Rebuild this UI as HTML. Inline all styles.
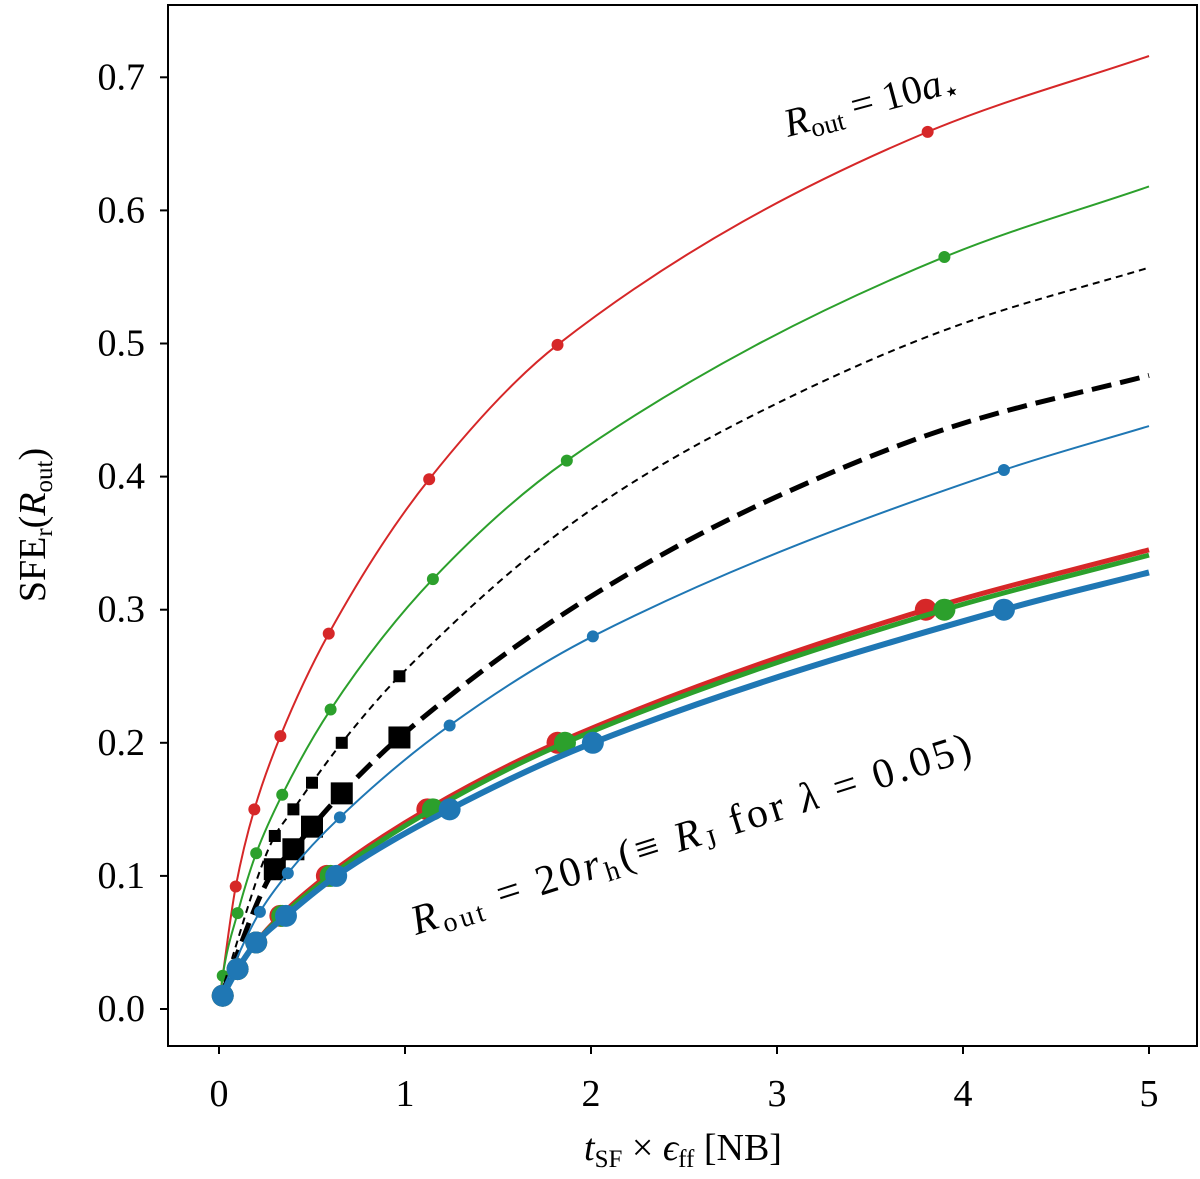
<!DOCTYPE html>
<html><head><meta charset="utf-8"><style>
html,body{margin:0;padding:0;background:#fff;}
svg{display:block;font-family:"Liberation Serif","DejaVu Serif",serif;}
</style></head><body>
<svg id="chart" width="1200" height="1179" viewBox="0 0 1200 1179"></svg>
<script>
const xTicks=[0,1,2,3,4,5];
const yTicks=[0.0,0.1,0.2,0.3,0.4,0.5,0.6,0.7];
const redThinX=[0.01,0.09,0.19,0.33,0.59,1.13,1.82,3.81,5];
const redThinY=[0.015,0.092,0.15,0.205,0.282,0.398,0.499,0.659,0.716];
const redThinM=[1,2,3,4,5,6,7];
const greenThinX=[0.01,0.02,0.1,0.2,0.34,0.6,1.15,1.87,3.9,5];
const greenThinY=[0.012,0.025,0.072,0.117,0.161,0.225,0.323,0.412,0.565,0.618];
const greenThinM=[1,2,3,4,5,6,7,8];
const blackThinX=[0.01,0.3,0.4,0.5,0.66,0.97,2,3,4,5];
const blackThinY=[0.012,0.13,0.15,0.17,0.2,0.25,0.375,0.455,0.515,0.557];
const blackThinM=[1,2,3,4,5];
const blackThickX=[0.01,0.3,0.4,0.5,0.66,0.97,2,3,4,5];
const blackThickY=[0.01,0.105,0.12,0.137,0.162,0.204,0.31,0.385,0.44,0.476];
const blackThickM=[1,2,3,4,5];
const blueThinX=[0.01,0.22,0.37,0.65,1.24,2.01,4.22,5];
const blueThinY=[0.012,0.073,0.102,0.144,0.213,0.28,0.405,0.438];
const blueThinM=[1,2,3,4,5,6];
const redThickX=[0.02,0.1,0.2,0.33,0.58,1.12,1.82,3.8,5];
const redThickY=[0.01,0.03,0.05,0.07,0.1,0.15,0.2,0.3,0.345];
const redThickM=[0,1,2,3,4,5,6,7];
const greenThickX=[0.02,0.1,0.2,0.34,0.6,1.15,1.86,3.9,5];
const greenThickY=[0.01,0.03,0.05,0.07,0.1,0.15,0.2,0.3,0.341];
const greenThickM=[0,1,2,3,4,5,6,7];
const blueThickX=[0.02,0.1,0.2,0.36,0.63,1.24,2.01,4.22,5];
const blueThickY=[0.01,0.03,0.05,0.07,0.1,0.15,0.2,0.3,0.328];
const blueThickM=[0,1,2,3,4,5,6,7];

const NS="http://www.w3.org/2000/svg";
const svg=document.getElementById('chart');
const X0=168,X1=1197,Y0=5,Y1=1046;
function sx(v){return 219+v*186;}
function sy(v){return 1009-v*1331;}
function mk(tag,attrs,parent){const e=document.createElementNS(NS,tag);for(const k in attrs)e.setAttribute(k,attrs[k]);(parent||svg).appendChild(e);return e;}
function path(xs,ys){
  const n=xs.length,d=[],m=new Array(n);
  for(let i=0;i<n-1;i++)d.push((ys[i+1]-ys[i])/(xs[i+1]-xs[i]));
  m[0]=d[0];m[n-1]=d[n-2];
  for(let i=1;i<n-1;i++){
    if(d[i-1]*d[i]<=0)m[i]=0;
    else{const h0=xs[i]-xs[i-1],h1=xs[i+1]-xs[i];const w1=2*h1+h0,w2=h1+2*h0;m[i]=(w1+w2)/(w1/d[i-1]+w2/d[i]);}
  }
  let s='M'+sx(xs[0])+','+sy(ys[0]);
  for(let i=0;i<n-1;i++){
    const h=xs[i+1]-xs[i];
    s+=' C'+sx(xs[i]+h/3)+','+sy(ys[i]+m[i]*h/3)+' '+sx(xs[i+1]-h/3)+','+sy(ys[i+1]-m[i+1]*h/3)+' '+sx(xs[i+1])+','+sy(ys[i+1]);
  }
  return s;
}
const series=[
 {n:'red-thin',x:redThinX,y:redThinY,m:redThinM,c:'#d62728',w:2,r:6,sq:false,dash:''},
 {n:'green-thin',x:greenThinX,y:greenThinY,m:greenThinM,c:'#2ca02c',w:2,r:6,sq:false,dash:''},
 {n:'black-thin-dashed',x:blackThinX,y:blackThinY,m:blackThinM,c:'#000',w:2,r:6,sq:true,dash:'7,5'},
 {n:'black-thick-dashed',x:blackThickX,y:blackThickY,m:blackThickM,c:'#000',w:5,r:11,sq:true,dash:'20,9'},
 {n:'blue-thin',x:blueThinX,y:blueThinY,m:blueThinM,c:'#1f77b4',w:2,r:6,sq:false,dash:''},
 {n:'red-thick',x:redThickX,y:redThickY,m:redThickM,c:'#d62728',w:5,r:11,sq:false,dash:''},
 {n:'green-thick',x:greenThickX,y:greenThickY,m:greenThickM,c:'#2ca02c',w:5,r:11,sq:false,dash:''},
 {n:'blue-thick',x:blueThickX,y:blueThickY,m:blueThickM,c:'#1f77b4',w:6,r:11,sq:false,dash:''}
];
series.forEach(s=>{
  const g=mk('g',{});
  
  
  const l=mk('path',{d:path(s.x,s.y),fill:'none',stroke:s.c,'stroke-width':s.w,'stroke-dasharray':s.dash},g);
  
  
  s.m.forEach(i=>{
    let e;
    if(s.sq) e=mk('rect',{x:sx(s.x[i])-s.r,y:sy(s.y[i])-s.r,width:2*s.r,height:2*s.r,fill:s.c},g);
    else e=mk('circle',{cx:sx(s.x[i]),cy:sy(s.y[i]),r:s.r,fill:s.c},g);
    
    
  });
});
const fr=mk('rect',{x:X0,y:Y0,width:X1-X0,height:Y1-Y0,fill:'none',stroke:'#000','stroke-width':2});


xTicks.forEach(t=>{
  const l=mk('line',{x1:sx(t),x2:sx(t),y1:Y1,y2:Y1+8,stroke:'#000','stroke-width':2});
  
  
  const tx=mk('text',{x:sx(t),y:1106,'font-size':38,'text-anchor':'middle'});
  tx.textContent=t;
  
  
});
yTicks.forEach(t=>{
  const l=mk('line',{x1:X0-8,x2:X0,y1:sy(t),y2:sy(t),stroke:'#000','stroke-width':2});
  
  
  const tx=mk('text',{x:145,y:sy(t)+12,'font-size':38,'text-anchor':'end'});
  tx.textContent=t.toFixed(1);
  
  
});
</script>
<div style="position:absolute;left:0;top:0;width:1200px;height:1179px;pointer-events:none;">
<svg width="1200" height="1179" style="font-family:'Liberation Serif','DejaVu Serif',serif;">
<text x="683" y="1160" font-size="38" text-anchor="middle"><tspan font-style="italic">t</tspan><tspan font-size="25" dy="7">SF</tspan><tspan dy="-7"> × </tspan><tspan font-style="italic">ϵ</tspan><tspan font-size="25" dy="7">ff</tspan><tspan dy="-7"> [NB]</tspan></text>
<text transform="translate(45,525) rotate(-90)" font-size="38" text-anchor="middle">SFE<tspan font-size="25" dy="7">r</tspan><tspan dy="-7">(</tspan><tspan font-style="italic">R</tspan><tspan font-size="25" dy="7">out</tspan><tspan dy="-7">)</tspan></text>
<text transform="translate(788,137) rotate(-15)" font-size="40"><tspan font-style="italic">R</tspan><tspan font-size="27" dy="7">out</tspan><tspan dy="-7"> = 10</tspan><tspan font-style="italic">a</tspan><tspan font-size="27" dy="7">⋆</tspan></text>
<text transform="translate(416,935) rotate(-17.5)" font-size="42" letter-spacing="3.5"><tspan font-style="italic">R</tspan><tspan font-size="28" dy="7">out</tspan><tspan dy="-7"> = 20</tspan><tspan font-style="italic">r</tspan><tspan font-size="28" dy="7">h</tspan><tspan dy="-7">(≡ </tspan><tspan font-style="italic">R</tspan><tspan font-size="28" dy="7">J</tspan><tspan dy="-7"> for </tspan><tspan font-style="italic">λ</tspan><tspan> = 0.05)</tspan></text>
</svg></div>
</body></html>
